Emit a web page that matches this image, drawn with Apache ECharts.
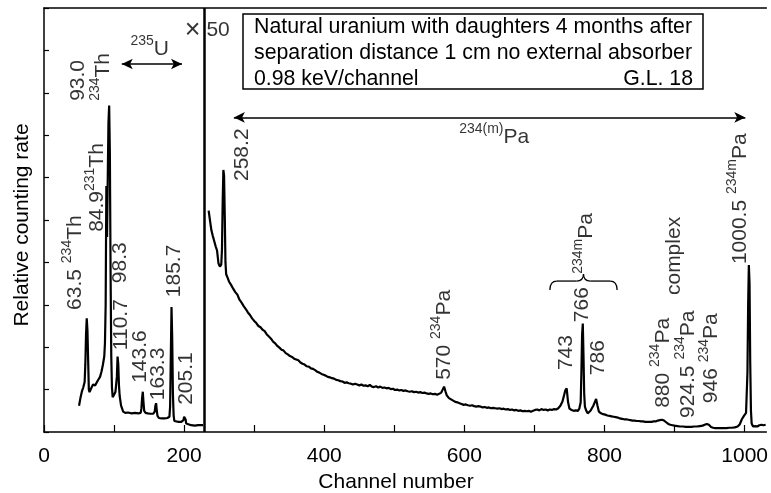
<!DOCTYPE html>
<html><head><meta charset="utf-8">
<script src="https://cdn.jsdelivr.net/npm/echarts@6/dist/echarts.min.js"></script>
<style>html,body{margin:0;padding:0;background:#fff}#c{width:771px;height:493px}</style>
</head><body><div id="c"></div>
<script>
// Low-energy part (true scale): [channel, relative rate]
const leftSpectrum = [
 [50,0.62],[52,0.80],[54,0.95],[56,1.05],[58,1.18],[59,1.6],[60,2.3],[61,2.68],[62,2.4],[63,1.7],[64,1.0],[65,0.94],
 [67,1.02],[70,1.12],[73,1.10],[77,1.22],[80,1.30],[82,1.42],[84,1.58],[86,1.78],[87,2.1],[88,3.0],[89,5.8],[90,4.6],
 [91,6.0],[92,7.3],[93,7.7],[94,6.6],[95,3.8],[96,1.8],[97,1.05],[98,0.82],[100,0.88],[102,0.95],[104,1.3],[105,1.78],
 [106,1.6],[107,1.1],[108,0.85],[110,0.62],[113,0.48],[116,0.45],[120,0.46],[125,0.44],[130,0.45],[135,0.44],[138,0.45],
 [139,0.55],[140,0.80],[141,0.95],[142,0.70],[143,0.50],[145,0.45],[148,0.44],[152,0.43],[156,0.43],[158,0.48],[159,0.62],
 [160,0.68],[161,0.5],[162,0.38],[164,0.33],[168,0.32],[172,0.32],[176,0.33],[179,0.36],[180,0.6],[181,1.8],[182,2.95],
 [183,2.2],[184,0.9],[185,0.4],[186,0.26],[188,0.24],[192,0.24],[196,0.24],[199,0.28],[200,0.36],[201,0.40],[202,0.30],
 [203,0.2],[205,0.16],[210,0.16],[215,0.15],[220,0.16],[225,0.16],[227,0.16]
];
// High-energy part (x 50): [channel, relative rate]
const rightSpectrum = [
 [235,5.22],[237,4.98],[239,4.75],[241,4.62],[243,4.5],[245,4.38],[247,4.28],[249,3.98],[251,3.9],[253,3.95],[254,4.3],[255,5.4],
 [256,6.18],[257,6.05],[258,5.1],[259,4.0],[260,3.72],[262,3.64],[264,3.55],[267,3.47],[270,3.38],[273,3.3],[276,3.24],[279,3.12],
 [282,3.05],[285,2.97],[288,2.9],[291,2.82],[294,2.76],[297,2.68],[300,2.62],[303,2.57],[306,2.5],[309,2.47],[312,2.41],[315,2.38],
 [318,2.3],[321,2.25],[324,2.2],[327,2.13],[330,2.09],[333,2.03],[336,1.99],[339,1.94],[342,1.92],[345,1.86],[348,1.83],[351,1.79],
 [354,1.77],[357,1.73],[360,1.71],[363,1.69],[366,1.64],[369,1.61],[372,1.59],[375,1.55],[378,1.54],[381,1.5],[384,1.49],[387,1.46],
 [390,1.42],[393,1.4],[396,1.37],[399,1.35],[402,1.33],[405,1.3],[408,1.29],[411,1.27],[414,1.26],[417,1.23],[420,1.22],[423,1.2],
 [426,1.19],[429,1.16],[432,1.17],[435,1.15],[438,1.14],[441,1.12],[444,1.14],[447,1.12],[450,1.1],[453,1.12],[456,1.09],[459,1.1],
 [462,1.08],[465,1.11],[468,1.07],[471,1.06],[474,1.08],[477,1.05],[480,1.07],[483,1.04],[486,1.05],[489,1.03],[492,1.04],[495,1.01],
 [498,1.02],[501,0.99],[504,1.0],[507,0.98],[510,0.99],[513,0.97],[516,0.98],[519,0.96],[522,0.95],[525,0.96],[528,0.94],[531,0.95],
 [534,0.93],[537,0.94],[540,0.92],[543,0.93],[546,0.91],[549,0.9],[552,0.91],[555,0.89],[558,0.9],[561,0.88],[564,0.9],[567,0.93],
 [569,1.0],[571,1.07],[573,0.96],[575,0.86],[578,0.8],[581,0.77],[584,0.74],[587,0.71],[590,0.7],[593,0.68],[596,0.66],[599,0.64],
 [602,0.65],[605,0.63],[608,0.62],[611,0.63],[614,0.61],[617,0.6],[620,0.61],[623,0.6],[626,0.58],[629,0.59],[632,0.57],[635,0.58],
 [638,0.56],[641,0.57],[644,0.56],[647,0.55],[650,0.56],[653,0.54],[656,0.55],[659,0.53],[662,0.54],[665,0.52],[668,0.53],[671,0.51],
 [674,0.52],[677,0.5],[680,0.51],[683,0.49],[686,0.5],[689,0.49],[692,0.5],[695,0.48],[698,0.5],[701,0.52],[704,0.53],[707,0.51],
 [710,0.54],[713,0.52],[716,0.53],[719,0.51],[722,0.53],[725,0.52],[728,0.54],[731,0.53],[734,0.56],[737,0.62],[740,0.72],[742,0.85],
 [744,0.98],[746,1.03],[748,0.7],[750,0.55],[753,0.52],[756,0.5],[759,0.51],[762,0.5],[764,0.55],[766,0.7],[767,1.4],[768,2.3],
 [769,2.56],[770,1.8],[771,0.9],[772,0.6],[774,0.5],[776,0.44],[778,0.46],[780,0.5],[782,0.56],[784,0.62],[786,0.7],[788,0.78],
 [790,0.62],[792,0.48],[795,0.44],[798,0.42],[801,0.41],[804,0.39],[807,0.38],[810,0.37],[813,0.36],[816,0.35],[819,0.34],[822,0.32],
 [825,0.31],[828,0.3],[831,0.3],[834,0.29],[837,0.28],[840,0.27],[843,0.27],[846,0.26],[849,0.26],[852,0.25],[855,0.25],[858,0.24],
 [861,0.24],[864,0.24],[867,0.24],[870,0.25],[873,0.25],[876,0.27],[879,0.28],[882,0.29],[885,0.27],[888,0.23],[891,0.19],[894,0.17],
 [897,0.16],[900,0.15],[904,0.14],[908,0.13],[912,0.13],[916,0.12],[920,0.12],[924,0.12],[928,0.13],[932,0.13],[936,0.14],[940,0.15],
 [943,0.17],[946,0.19],[949,0.17],[952,0.12],[955,0.1],[958,0.09],[962,0.09],[966,0.09],[970,0.09],[974,0.09],[978,0.1],[982,0.1],
 [986,0.11],[990,0.13],[993,0.18],[996,0.3],[999,0.38],[1002,0.45],[1004,1.4],[1005,3.0],[1006,3.94],[1007,3.5],[1008,1.6],[1009,0.5],
 [1010,0.2],[1012,0.13],[1015,0.14],[1018,0.13],[1021,0.16],[1024,0.17],[1027,0.16],[1030,0.17]
];
const xTickValues = [0,100,200,300,400,500,600,700,800,900,1000];
const xLabelValues = [0,200,400,600,800,1000];
// Rotated peak labels: [channel, value at text start, text]
const peakLabels = [
 [48.2,7.81,'93.0'],[85.1,7.81,'{s|234}Th'],[76.6,4.72,'84.9{s|231}Th'],[44.0,2.88,'63.5 {s|234}Th'],
 [108.5,3.51,'98.3'],[110.6,1.93,'110.7'],[137.6,1.16,'143.6'],[163.1,0.75,'163.3'],[186.5,3.18,'185.7'],
 [203.5,0.64,'205.1'],[282.2,5.92,'258.2'],[571.5,1.23,'570 {s|234}Pa'],[746,1.46,'743'],[768.7,2.59,'766'],
 [774.4,3.73,'{s|234m}Pa'],[791.4,1.34,'786'],[883.6,0.57,'880 {s|234}Pa'],[899.5,3.23,'complex'],
 [919,0.33,'924.5 {s|234}Pa'],[952.9,0.68,'946 {s|234}Pa'],[994.2,3.96,'1000.5 {s|234m}Pa']
];
// Horizontal labels: [channel, value, text]
const flatLabels = [[201,9.48,'{x|×} 50'],[123.4,9.03,'{s|235}U'],[592.5,6.96,'{s|234(m)}Pa']];
// Double arrows: [from channel, to channel, value]
const arrows = [[111,197,8.68],[271,1001,7.42]];
const dividerChannel = 228.3;
const braceSpan = [722, 818, 3.56];
const noteLines = ['Natural uranium with daughters 4 months after','separation distance 1 cm no external absorber','0.98 keV/channel'];
const noteTag = 'G.L. 18';

const FONT = "'Liberation Sans', Arial, Helvetica, sans-serif";
const rich = {
  s: { fontSize: 14, lineHeight: 14, verticalAlign: 'top', fontFamily: FONT, color: '#000' },
  x: { fontSize: 27, lineHeight: 30, fontFamily: FONT, color: '#000' }
};
const chart = echarts.init(document.getElementById('c'));

function labelSeries(items, rot) {
  return {
    type: 'scatter', silent: true, symbolSize: 1, itemStyle: { color: 'rgba(0,0,0,0)' }, z: 5,
    data: items.map(l => ({ value: [l[0], l[1]], name: l[2] })),
    label: { show: true, position: 'inside', rotate: rot, align: 'left', verticalAlign: 'middle',
      formatter: p => p.name, fontSize: 21, lineHeight: 30, fontFamily: FONT, color: '#000', rich: rich }
  };
}

chart.setOption({
  animation: false,
  grid: { left: 44, right: 0, top: 8, bottom: 61, containLabel: false },
  xAxis: [{
    type: 'value', min: 0, max: 1031, interval: 100,
    axisLine: { lineStyle: { color: '#000', width: 1.5 } },
    axisTick: { inside: true, length: 7, customValues: xTickValues, lineStyle: { color: '#000', width: 1.2 } },
    axisLabel: { customValues: xLabelValues, formatter: v => String(v), fontSize: 21, fontFamily: FONT, color: '#000', margin: 14 },
    splitLine: { show: false }
  }, {
    type: 'value', position: 'top', min: 0, max: 1031,
    axisLine: { show: true, lineStyle: { color: '#000', width: 1.5 } },
    axisTick: { show: false }, axisLabel: { show: false }, splitLine: { show: false }
  }],
  yAxis: {
    type: 'value', min: 0, max: 10, interval: 1,
    axisLine: { show: true, lineStyle: { color: '#000', width: 1.5 } },
    axisTick: { show: true, inside: true, length: 5, lineStyle: { color: '#000', width: 1.2 } },
    axisLabel: { show: false }, splitLine: { show: false }
  },
  series: [
    { type: 'line', data: leftSpectrum, showSymbol: false, lineStyle: { color: '#000', width: 2.2 }, silent: true,
      markLine: { silent: true, symbol: 'none', label: { show: false }, lineStyle: { color: '#000', width: 2.5, type: 'solid' },
        data: [{ xAxis: dividerChannel }] } },
    { type: 'line', data: rightSpectrum, showSymbol: false, lineStyle: { color: '#000', width: 2.2 }, silent: true,
      markLine: { silent: true, symbol: ['arrow', 'arrow'], symbolSize: [8, 11], label: { show: false },
        lineStyle: { color: '#000', width: 1.5, type: 'solid' },
        data: arrows.map(a => [{ coord: [a[0], a[2]] }, { coord: [a[1], a[2]] }]) } },
    labelSeries(peakLabels, 90),
    labelSeries(flatLabels, 0)
  ]
});

const p0 = chart.convertToPixel({ gridIndex: 0 }, [braceSpan[0], braceSpan[2]]);
const p1 = chart.convertToPixel({ gridIndex: 0 }, [braceSpan[1], braceSpan[2]]);
const bx0 = p0[0], bx1 = p1[0], by = p0[1], bxm = (bx0 + bx1) / 2;
const bs = { fill: null, stroke: '#000', lineWidth: 1.3 };
function curve(x1, y1, cx, cy, x2, y2) {
  return { type: 'bezierCurve', silent: true, shape: { x1: x1, y1: y1, x2: x2, y2: y2, cpx1: cx, cpy1: cy }, style: bs };
}
function seg(x1, y1, x2, y2) {
  return { type: 'line', silent: true, shape: { x1: x1, y1: y1, x2: x2, y2: y2 }, style: bs };
}

chart.setOption({
  graphic: [
    curve(bx0, by + 9, bx0, by, bx0 + 7, by),
    seg(bx0 + 7, by, bxm - 7, by),
    curve(bxm - 7, by, bxm, by, bxm, by - 7),
    curve(bxm, by - 7, bxm, by, bxm + 7, by),
    seg(bxm + 7, by, bx1 - 7, by),
    curve(bx1 - 7, by, bx1, by, bx1, by + 9),
    { type: 'rect', shape: { x: 243, y: 14, width: 460, height: 75 }, style: { fill: '#fff', stroke: '#000', lineWidth: 1.5 }, silent: true, z: 10 },
    { type: 'text', x: 254, y: 27, z: 11, style: { text: noteLines[0], fontSize: 21.3, fontFamily: FONT, fill: '#000', verticalAlign: 'middle' } },
    { type: 'text', x: 254, y: 53, z: 11, style: { text: noteLines[1], fontSize: 21.3, fontFamily: FONT, fill: '#000', verticalAlign: 'middle' } },
    { type: 'text', x: 254, y: 79, z: 11, style: { text: noteLines[2], fontSize: 21.3, fontFamily: FONT, fill: '#000', verticalAlign: 'middle' } },
    { type: 'text', x: 693, y: 79, z: 11, style: { text: noteTag, fontSize: 21.3, fontFamily: FONT, fill: '#000', align: 'right', verticalAlign: 'middle' } },
    { type: 'text', x: 22, y: 225, rotation: Math.PI / 2, style: { text: 'Relative counting rate', fontSize: 21, fontFamily: FONT, fill: '#000', align: 'center', verticalAlign: 'middle' } },
    { type: 'text', x: 396, y: 482, style: { text: 'Channel number', fontSize: 21, fontFamily: FONT, fill: '#000', align: 'center', verticalAlign: 'middle' } }
  ]
});
</script></body></html>
